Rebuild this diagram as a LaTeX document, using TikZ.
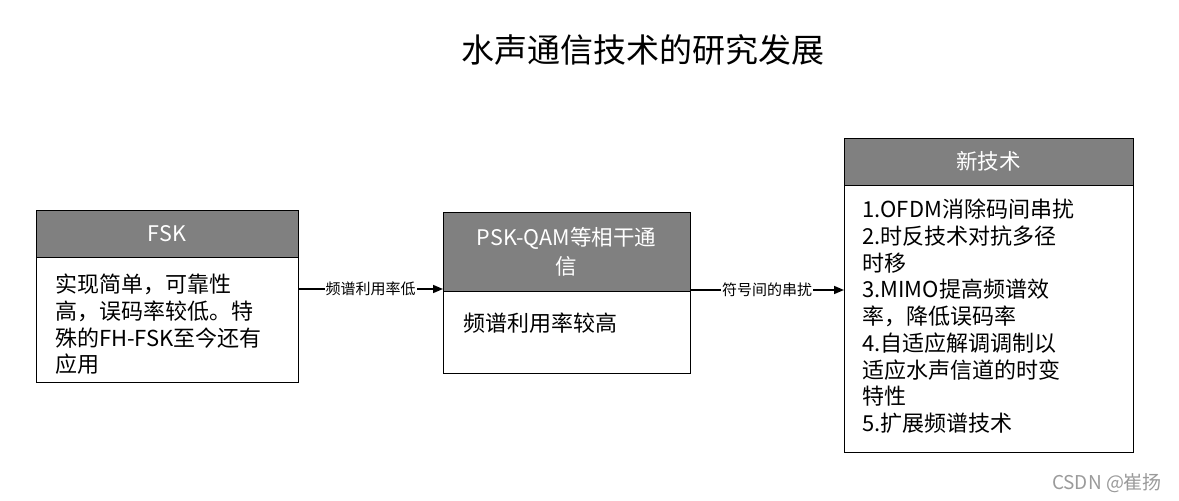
\documentclass[tikz,border=0pt]{standalone}
\usepackage{fontspec}
\setmainfont{Noto Sans CJK SC}
\usetikzlibrary{arrows.meta,calc}
\definecolor{hdr}{HTML}{808080}
\definecolor{wm}{HTML}{9A9A9A}
\tikzset{
  x=1pt,y=-1pt,
  boxpart/.style={draw=black,line width=1pt,anchor=north west,inner sep=0pt,outer sep=0pt},
  hdrbox/.style={boxpart,fill=hdr},
  hdrtext/.style={text=white,font=\fontsize{21.5}{29}\selectfont,align=center,inner sep=0pt},
  bodytext/.style={anchor=north west,inner sep=0pt,align=left,font=\fontsize{22}{26.7}\selectfont},
  arr/.style={line width=1.5pt,-{Triangle[length=10pt,width=8pt]}},
  elabel/.style={fill=white,inner sep=1pt,font=\fontsize{15}{17}\selectfont}
}
\begin{document}
\begin{tikzpicture}
\useasboundingbox (0,0) rectangle (1179,501);
% title
\node[font=\fontsize{33}{38}\selectfont] (title) at (643,50) {水声通信技术的研究发展};
% FSK
\node[hdrbox,minimum width=262,minimum height=47] (fskh) at (36,210) {};
\node[boxpart,minimum width=262,minimum height=125] (fskb) at (36,257) {};
\node[hdrtext] (fskt) at (fskh.center) {FSK};
\node[bodytext] (fskx) at (55,274) {实现简单，可靠性\\高，误码率较低。特\\殊的FH-FSK至今还有\\应用};
% PSK
\node[hdrbox,minimum width=247,minimum height=79] (pskh) at (443,212) {};
\node[boxpart,minimum width=247,minimum height=82] (pskb) at (443,291) {};
\node[hdrtext] (pskt) at (pskh.center) {PSK-QAM等相干通\\信};
\node[bodytext] (pskx) at (463,313) {频谱利用率较高};
% new
\node[hdrbox,minimum width=289,minimum height=47] (newh) at (844,138) {};
\node[boxpart,minimum width=289,minimum height=267] (newb) at (844,185) {};
\node[hdrtext] (newt) at (newh.center) {新技术};
\node[bodytext] (newx) at (862,199) {1.OFDM消除码间串扰\\2.时反技术对抗多径\\时移\\3.MIMO提高频谱效\\率，降低误码率\\4.自适应解调调制以\\适应水声信道的时变\\特性\\5.扩展频谱技术};
% arrows
\draw[arr] ([yshift=2]fskb.east |- pskb.north west) -- node[elabel] (l1) {频谱利用率低} ([yshift=2]pskb.north west);
\draw[arr] ([yshift=1]pskb.north east) -- node[elabel] (l2) {符号间的串扰} ([yshift=1]newb.west |- pskb.north east);
% watermark
\node[text=wm,font=\fontsize{19}{21}\selectfont] (wmk) at (1107,483) {CSDN @崔扬};
\end{tikzpicture}
\end{document}
